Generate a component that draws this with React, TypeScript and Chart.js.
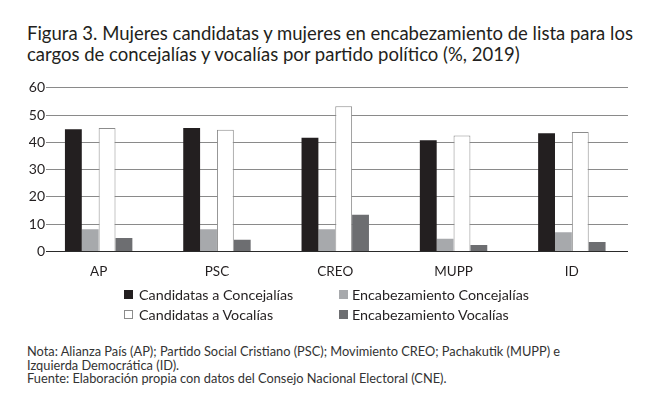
import React, { useEffect, useRef } from "react";
import { Chart, registerables } from "chart.js";

Chart.register(...registerables);

const categories = ["AP", "PSC", "CREO", "MUPP", "ID"];
const candConcejalias = [44.6, 45.1, 41.5, 40.6, 43.2];
const encConcejalias = [8.0, 8.0, 8.0, 4.5, 6.9];
const candVocalias = [45.1, 44.4, 53.1, 42.3, 43.6];
const encVocalias = [4.8, 4.1, 13.3, 2.2, 3.3];
const yTicks = [0, 10, 20, 30, 40, 50, 60];

const seriesNames = [
  "Candidatas a Concejalías",
  "Encabezamiento Concejalías",
  "Candidatas a Vocalías",
  "Encabezamiento Vocalías",
];
const seriesColors = ["#231f20", "#a7a9ac", "#ffffff", "#6d6e71"];
const seriesBorders = ["#231f20", "#a7a9ac", "#8c8c8c", "#6d6e71"];

const FONT = "Lato, 'Open Sans', sans-serif";

const gridPlugin = {
  id: "customGrid",
  beforeDatasetsDraw(chart: any) {
    const { ctx, chartArea, scales } = chart;
    const y = scales.y;
    ctx.save();
    ctx.font = "14px " + FONT;
    ctx.textAlign = "right";
    ctx.textBaseline = "middle";
    yTicks.forEach((t) => {
      const py = Math.round(y.getPixelForValue(t)) + 0.5;
      ctx.beginPath();
      ctx.strokeStyle = t === 0 ? "#2a2a2a" : "#8a8a8a";
      ctx.lineWidth = 1;
      ctx.moveTo(chartArea.left + 6.5, py);
      ctx.lineTo(chartArea.right - 3, py);
      ctx.stroke();
      ctx.fillStyle = "#231f20";
      ctx.fillText(String(t), chartArea.left + 5.5, py);
    });
    ctx.restore();
  },
};

function ChartBox() {
  const ref = useRef<HTMLCanvasElement>(null);
  useEffect(() => {
    if (!ref.current) return;
    const data = [candConcejalias, encConcejalias, candVocalias, encVocalias];
    const chart = new Chart(ref.current, {
      type: "bar",
      data: {
        labels: categories,
        datasets: data.map((d, i) => ({
          label: seriesNames[i],
          data: d,
          backgroundColor: seriesColors[i],
          borderColor: seriesBorders[i],
          borderWidth: i === 2 ? 1 : 0,
          barPercentage: 1,
          categoryPercentage: 0.57,
        })),
      },
      plugins: [gridPlugin],
      options: {
        animation: false,
        responsive: false,
        maintainAspectRatio: false,
        layout: { padding: { top: 7.3, right: 29, left: 0, bottom: 0 } },
        plugins: { legend: { display: false }, tooltip: { enabled: false } },
        scales: {
          x: {
            grid: { display: false, drawTicks: false },
            border: { display: false },
            ticks: { color: "#231f20", font: { family: FONT, size: 13.5 }, padding: 13 },
            afterFit: (s: any) => {
              s.height = 34;
            },
          },
          y: {
            min: 0,
            max: 60,
            afterBuildTicks: (s: any) => {
              s.ticks = yTicks.map((v) => ({ value: v }));
            },
            grid: { display: false, drawTicks: false },
            border: { display: false },
            ticks: { display: false },
            afterFit: (s: any) => {
              s.width = 39.5;
            },
          },
        },
      },
    });
    return () => chart.destroy();
  }, []);
  return <canvas ref={ref} width={660} height={205} style={{ position: "absolute", left: 0, top: 80 }} />;
}

export default function App() {
  const legendCols = [
    [0, 2],
    [1, 3],
  ];
  return (
    <div
      style={{
        position: "absolute",
        left: 0,
        top: 0,
        width: 660,
        height: 414,
        background: "#fff",
        fontFamily: FONT,
        color: "#231f20",
        overflow: "hidden",
      }}
    >
      <div style={{ position: "absolute", left: 27, top: 23, fontSize: 18.5, lineHeight: "21px", whiteSpace: "nowrap" }}>
        <div>Figura 3. Mujeres candidatas y mujeres en encabezamiento de lista para los</div>
        <div>cargos de concejalías y vocalías por partido político (%, 2019)</div>
      </div>
      <ChartBox />
      {legendCols.map((col, ci) => (
        <div key={ci} style={{ position: "absolute", left: ci === 0 ? 124 : 339, top: 284 }}>
          {col.map((si) => (
            <div key={si} style={{ display: "flex", alignItems: "center", height: 20, fontSize: 14.3, whiteSpace: "nowrap" }}>
              <span
                style={{
                  display: "inline-block",
                  width: 9,
                  height: 9,
                  background: seriesColors[si],
                  border: si === 2 ? "1px solid #8c8c8c" : "1px solid " + seriesColors[si],
                  marginRight: ci === 0 ? 6 : 4,
                  boxSizing: "border-box",
                }}
              />
              {seriesNames[si]}
            </div>
          ))}
        </div>
      ))}
      <div style={{ position: "absolute", left: 27, top: 345, fontSize: 12.8, lineHeight: "13.5px", color: "#333" }}>
        <div>Nota: Alianza País (AP); Partido Social Cristiano (PSC); Movimiento CREO; Pachakutik (MUPP) e</div>
        <div>Izquierda Democrática (ID).</div>
        <div>Fuente: Elaboración propia con datos del Consejo Nacional Electoral (CNE).</div>
      </div>
    </div>
  );
}
